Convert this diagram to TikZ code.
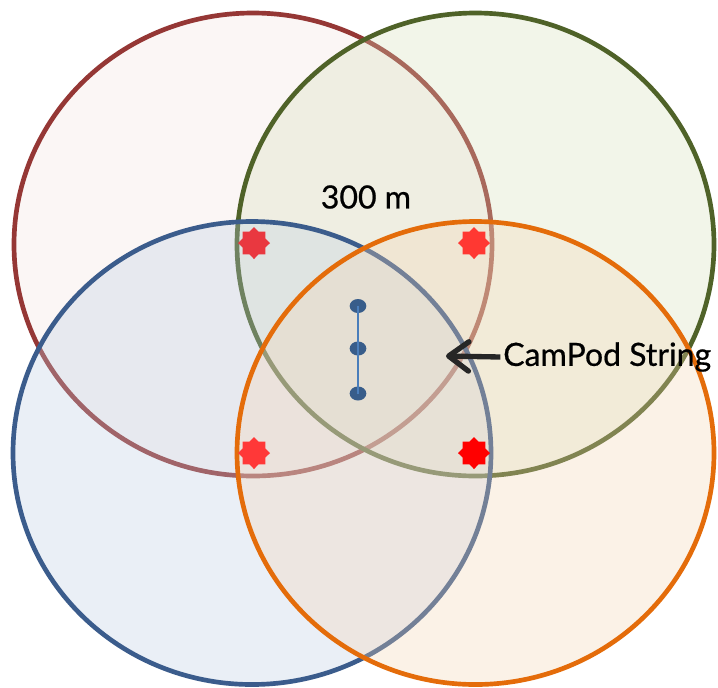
\documentclass[tikz,border=0pt]{standalone}
\usepackage{fontspec}
\setmainfont{Lato}
\newfontfamily\labelfont{Lato}[FakeBold=0.6]
\usetikzlibrary{shapes.geometric,arrows.meta}

% ring colours: outlines and their light fills
\definecolor{redline}{RGB}{149,55,53}
\definecolor{redfill}{RGB}{242,228,225}
\definecolor{greenline}{RGB}{79,98,40}
\definecolor{greenfill}{RGB}{212,222,185}
\definecolor{blueline}{RGB}{59,92,140}
\definecolor{bluefill}{RGB}{188,205,228}
\definecolor{orangeline}{RGB}{228,108,10}
\definecolor{orangefill}{RGB}{245,212,178}
\definecolor{dotblue}{RGB}{56,93,138}
\definecolor{stringblue}{RGB}{74,126,187}
\definecolor{arrowgray}{RGB}{38,38,38}

\tikzset{
  ring/.style={line width=3.5pt, fill opacity=0.3},
  beacon/.style={star, star points=8, star point ratio=1.31, inner sep=0pt,
                 minimum size=24pt, draw=none},
  pod/.style={ellipse, fill=dotblue, inner sep=0pt,
              minimum width=12.5pt, minimum height=10.5pt},
  label/.style={font=\labelfont\fontsize{24pt}{28pt}\selectfont, inner sep=0pt, text=black}
}

\begin{document}
\begin{tikzpicture}[x=0.75pt, y=-0.75pt]
  \useasboundingbox (0,0) rectangle (718,687);
  \fill[white] (0,0) rectangle (718,687);

  % coverage rings, later ones tint the earlier outlines
  \filldraw[ring, draw=redline,    fill=redfill]    (253,244.5) ellipse [x radius=239, y radius=231.5];
  \filldraw[ring, draw=greenline,  fill=greenfill]  (475.5,244.5) ellipse [x radius=238.5, y radius=231.5];
  \filldraw[ring, draw=blueline,   fill=bluefill]   (252,453) ellipse [x radius=239, y radius=231.5];
  \filldraw[ring, draw=orangeline, fill=orangefill] (475.5,453) ellipse [x radius=238.5, y radius=231.5];

  % beacons at the ring centres
  \node[beacon, fill={rgb,255:red,233;green,56;blue,64}] (b1) at (254,243) {};
  \node[beacon, fill={rgb,255:red,255;green,56;blue,50}] (b2) at (474,243) {};
  \node[beacon, fill={rgb,255:red,255;green,56;blue,56}] (b3) at (254,453) {};
  \node[beacon, fill={rgb,255:red,255;green,0;blue,0}]   (b4) at (474,453) {};

  % camera pod string
  \node[pod] (p1) at (358,306) {};
  \node[pod] (p2) at (358,348.5) {};
  \node[pod] (p3) at (358,393.5) {};
  \draw[stringblue, line width=1.5pt] (p1.center) -- (p2.center) -- (p3.center);

  % labels
  \node[label] (dist) at (366,197) {300 m};
  \node[label, anchor=west] (cam) at (503,357) {CamPod String};
  \coordinate (tip) at (446,356);
  \draw[arrowgray, line width=4pt,
        -{Straight Barb[length=15pt, width=22pt, line cap=round, line join=round]}]
        ([xshift=-2pt]cam.west) -- (tip);
\end{tikzpicture}
\end{document}
